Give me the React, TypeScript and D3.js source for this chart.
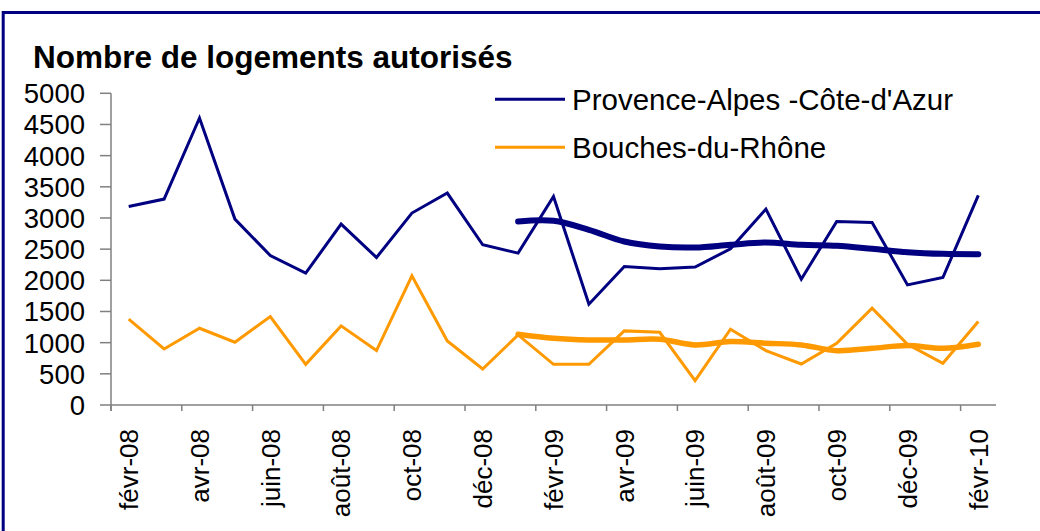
import React from 'react';
import * as d3 from 'd3';

// Monthly categories, Feb 2008 to Feb 2010
const months = [
  'févr-08', 'mars-08', 'avr-08', 'mai-08', 'juin-08', 'juil-08', 'août-08', 'sept-08',
  'oct-08', 'nov-08', 'déc-08', 'janv-09', 'févr-09', 'mars-09', 'avr-09', 'mai-09',
  'juin-09', 'juil-09', 'août-09', 'sept-09', 'oct-09', 'nov-09', 'déc-09', 'janv-10', 'févr-10',
];

// Monthly authorised dwellings
const pacaValues = [
  3185, 3303, 4604, 2982, 2398, 2115, 2902, 2366, 3079, 3400, 2570, 2436,
  3346, 1617, 2222, 2184, 2212, 2506, 3143, 2018, 2945, 2929, 1927, 2045, 3362,
];
const bdrValues = [
  1376, 899, 1231, 1007, 1419, 653, 1269, 873, 2072, 1028, 578, 1124,
  653, 653, 1189, 1167, 391, 1215, 873, 658, 991, 1553, 975, 669, 1338,
];

// Smoothed trend lines, from janv-09 onwards
const trendMonths = months.slice(11);
const pacaTrend = [2945, 2955, 2811, 2623, 2543, 2527, 2570, 2607, 2570, 2554, 2506, 2452, 2425, 2420];
const bdrTrend = [1135, 1071, 1044, 1044, 1055, 964, 1017, 991, 964, 872, 910, 953, 910, 975];

const yTicks = [0, 500, 1000, 1500, 2000, 2500, 3000, 3500, 4000, 4500, 5000];

const legendItems = [
  { label: "Provence-Alpes -Côte-d'Azur", color: '#000080' },
  { label: 'Bouches-du-Rhône', color: '#FF9900' },
];

const NAVY = '#000080';
const ORANGE = '#FF9900';
const AXIS = '#808080';
const FONT = '"Liberation Sans", Arial, sans-serif';

const App = () => {
  const width = 1040;
  const height = 531;
  const left = 111;
  const right = 996;
  const top = 93.3;
  const bottom = 405;

  const x = d3.scaleBand<string>().domain(months).range([left, right]).padding(0);
  const y = d3.scaleLinear().domain([0, 5000]).range([bottom, top]);
  const cx = (m: string) => (x(m) as number) + x.bandwidth() / 2;

  const line = d3.line<[string, number]>()
    .x(d => cx(d[0]))
    .y(d => y(d[1]));
  const smooth = d3.line<[string, number]>()
    .x(d => cx(d[0]))
    .y(d => y(d[1]))
    .curve(d3.curveCatmullRom.alpha(0.5));

  const zip = (ms: string[], vs: number[]) => ms.map((m, i) => [m, vs[i]] as [string, number]);

  return (
    <svg
      width={width}
      height={height}
      style={{ position: 'absolute', left: 0, top: 0, background: '#fff' }}
      fontFamily={FONT}
    >
      {/* chart frame */}
      <rect x={3.2} y={12.5} width={1100} height={600} fill="none" stroke={NAVY} strokeWidth={3} />

      <text x={33} y={68} fontSize={31.5} fontWeight="bold" fill="#000">
        Nombre de logements autorisés
      </text>

      {/* y axis */}
      <line x1={left} x2={left} y1={top} y2={bottom + 6} stroke={AXIS} strokeWidth={1.5} />
      {yTicks.map(t => (
        <g key={t}>
          <line x1={left - 11} x2={left} y1={y(t)} y2={y(t)} stroke={AXIS} strokeWidth={1.5} />
          <text x={85} y={y(t)} dy="0.36em" textAnchor="end" fontSize={27.5} fill="#000">
            {t}
          </text>
        </g>
      ))}

      {/* x axis */}
      <line x1={left} x2={right} y1={bottom} y2={bottom} stroke={AXIS} strokeWidth={1.5} />
      {months.map((m, i) => i % 2 === 0 && (
        <g key={m}>
          <line x1={x(m)} x2={x(m)} y1={bottom} y2={bottom + 6} stroke={AXIS} strokeWidth={1.5} />
          <text
            transform={`translate(${cx(m)},${bottom + 24}) rotate(-90)`}
            dy="0.36em"
            textAnchor="end"
            fontSize={26}
            fill="#000"
          >
            {m}
          </text>
        </g>
      ))}

      {/* monthly series */}
      <path d={line(zip(months, pacaValues)) || ''} fill="none" stroke={NAVY} strokeWidth={3} strokeLinejoin="miter" />
      <path d={line(zip(months, bdrValues)) || ''} fill="none" stroke={ORANGE} strokeWidth={3} strokeLinejoin="miter" />

      {/* trends */}
      <path d={smooth(zip(trendMonths, pacaTrend)) || ''} fill="none" stroke={NAVY} strokeWidth={6} strokeLinecap="round" />
      <path d={smooth(zip(trendMonths, bdrTrend)) || ''} fill="none" stroke={ORANGE} strokeWidth={5.5} strokeLinecap="round" />

      {/* legend */}
      {legendItems.map((it, i) => (
        <g key={it.label} transform={`translate(495,${99.3 + i * 48})`}>
          <line x1={0} x2={70} y1={0} y2={0} stroke={it.color} strokeWidth={3} />
          <text x={77} y={0} dy="0.36em" fontSize={29.5} fill="#000">
            {it.label}
          </text>
        </g>
      ))}
    </svg>
  );
};

export default App;
